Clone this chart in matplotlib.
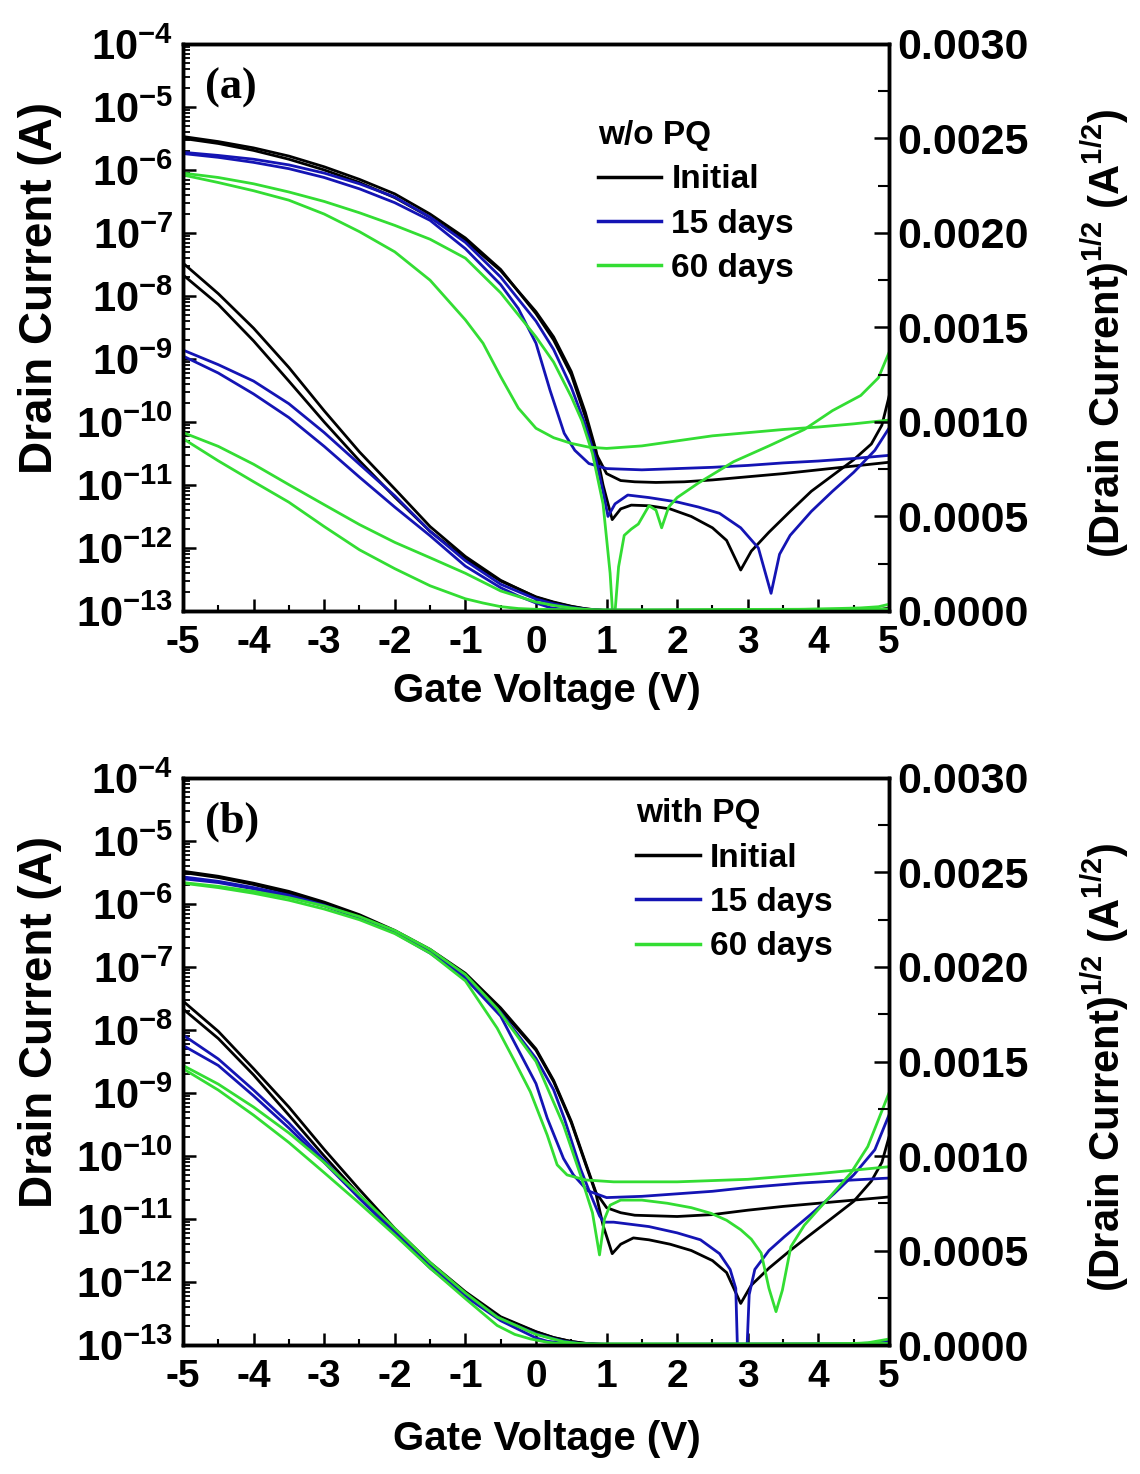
import numpy as np
import matplotlib
matplotlib.use('Agg')
import matplotlib.pyplot as plt
from matplotlib.ticker import LogLocator, MultipleLocator, FuncFormatter, NullFormatter

plt.rcParams['font.family'] = ['Liberation Sans', 'DejaVu Sans']
plt.rcParams['font.weight'] = 'bold'
plt.rcParams['mathtext.fontset'] = 'custom'
plt.rcParams['mathtext.bf'] = 'Liberation Sans:bold'
plt.rcParams['mathtext.rm'] = 'Liberation Sans'
plt.rcParams['axes.unicode_minus'] = False

# Drain current, log10(I / A).  The right axis shows sqrt(I).
# panel (a) - w/o PQ
a_init_1_v = [-5, -4.5, -4, -3.5, -3, -2.5, -2, -1.5, -1, -0.5, 0, 0.25, 0.5, 0.7, 0.85,
              1.0, 1.2, 1.4, 1.7, 2.1, 2.5, 3.0, 3.5, 4.0, 4.5, 5.0]
a_init_1_log = [-5.47, -5.55, -5.65, -5.78, -5.95, -6.15, -6.38, -6.70, -7.08, -7.58, -8.28, -8.70,
                -9.25, -9.92, -10.5, -10.82, -10.93, -10.95, -10.96, -10.95, -10.92, -10.87, -10.82,
                -10.76, -10.70, -10.64]
a_init_2_v = [-5, -4.5, -4, -3.5, -3, -2.5, -2, -1.5, -1, -0.5, 0, 0.25, 0.5, 0.7, 0.85, 0.95,
              1.08, 1.2, 1.35, 1.6, 1.9, 2.2, 2.5, 2.7, 2.9, 3.05, 3.3, 3.6, 3.9, 4.2, 4.5, 4.75,
              4.9, 5.0]
a_init_2_log = [-5.50, -5.58, -5.69, -5.83, -6.00, -6.20, -6.44, -6.75, -7.12, -7.60, -8.25, -8.65,
                -9.20, -9.85, -10.45, -11.0, -11.55, -11.38, -11.32, -11.33, -11.38, -11.5, -11.68,
                -11.88, -12.35, -12.05, -11.75, -11.42, -11.1, -10.85, -10.6, -10.35, -10.05, -9.6]
a_d15_1_v = [-5, -4.5, -4, -3.5, -3, -2.5, -2, -1.5, -1, -0.5, -0.25, 0, 0.2, 0.4, 0.55, 0.75,
             1.0, 1.5, 2.0, 2.5, 3.0, 3.5, 4.0, 4.5, 5.0]
a_d15_1_log = [-5.74, -5.80, -5.88, -5.98, -6.12, -6.30, -6.52, -6.80, -7.25, -7.82, -8.2, -8.75,
               -9.5, -10.18, -10.45, -10.66, -10.74, -10.76, -10.74, -10.72, -10.69, -10.65, -10.62,
               -10.58, -10.53]
a_d15_2_v = [-5, -4.5, -4, -3.5, -3, -2.5, -2, -1.5, -1, -0.5, 0, 0.25, 0.5, 0.7, 0.85, 0.95,
             1.02, 1.12, 1.3, 1.6, 2.0, 2.3, 2.6, 2.9, 3.15, 3.33, 3.45, 3.6, 3.9, 4.2, 4.5, 4.8,
             5.0]
a_d15_2_log = [-5.72, -5.77, -5.83, -5.92, -6.05, -6.22, -6.43, -6.75, -7.15, -7.7, -8.4, -8.85,
               -9.45, -10.05, -10.6, -11.1, -11.5, -11.3, -11.16, -11.2, -11.27, -11.35, -11.45,
               -11.68, -12.0, -12.72, -12.1, -11.8, -11.42, -11.1, -10.8, -10.45, -10.1]
a_d60_1_v = [-5, -4.5, -4, -3.5, -3, -2.5, -2, -1.5, -1, -0.75, -0.5, -0.25, 0, 0.25, 0.5, 0.75,
             1.0, 1.5, 2.0, 2.5, 3.0, 3.5, 4.0, 4.5, 5.0]
a_d60_1_log = [-6.08, -6.2, -6.33, -6.48, -6.7, -6.98, -7.3, -7.75, -8.38, -8.75, -9.28, -9.78,
               -10.1, -10.25, -10.34, -10.4, -10.42, -10.38, -10.3, -10.22, -10.17, -10.12, -10.08,
               -10.03, -9.97]
a_d60_2_v = [-5, -4.5, -4, -3.5, -3, -2.5, -2, -1.5, -1, -0.5, 0, 0.25, 0.5, 0.65, 0.8, 0.95,
             1.05, 1.1, 1.17, 1.25, 1.35, 1.45, 1.6, 1.7, 1.78, 1.88, 2.0, 2.3, 2.8, 3.3, 3.8,
             4.2, 4.6, 4.85, 5.0]
a_d60_2_log = [-6.05, -6.12, -6.22, -6.35, -6.5, -6.68, -6.88, -7.1, -7.4, -7.95, -8.65, -9.05,
               -9.6, -9.98, -10.5, -11.3, -12.4, -13.3, -12.3, -11.8, -11.7, -11.62, -11.33, -11.4,
               -11.68, -11.35, -11.2, -10.97, -10.63, -10.38, -10.12, -9.82, -9.58, -9.3, -8.9]

# panel (b) - with PQ
b_init_1_v = [-5, -4.5, -4, -3.5, -3, -2.5, -2, -1.5, -1, -0.5, 0, 0.25, 0.5, 0.7, 0.85,
              1.0, 1.2, 1.4, 2.0, 2.5, 3.0, 3.5, 4.0, 4.5, 5.0]
b_init_1_log = [-5.48, -5.56, -5.67, -5.80, -5.97, -6.17, -6.42, -6.72, -7.10, -7.65, -8.30, -8.80,
                -9.45, -10.1, -10.58, -10.82, -10.9, -10.94, -10.96, -10.93, -10.86, -10.8, -10.75,
                -10.7, -10.65]
b_init_2_v = [-5, -4.5, -4, -3.5, -3, -2.5, -2, -1.5, -1, -0.5, 0, 0.25, 0.5, 0.7, 0.85, 0.95,
              1.08, 1.2, 1.38, 1.6, 1.9, 2.2, 2.5, 2.7, 2.9, 3.05, 3.3, 3.6, 3.85, 4.2, 4.5, 4.75,
              4.9, 5.0]
b_init_2_log = [-5.50, -5.58, -5.69, -5.83, -6.00, -6.20, -6.45, -6.75, -7.13, -7.68, -8.32, -8.82,
                -9.47, -10.12, -10.6, -11.1, -11.55, -11.4, -11.3, -11.33, -11.4, -11.5, -11.66,
                -11.85, -12.34, -12.05, -11.78, -11.5, -11.28, -10.98, -10.72, -10.4, -10.1, -9.7]
b_d15_1_v = [-5, -4.5, -4, -3.5, -3, -2.5, -2, -1.5, -1, -0.5, 0, 0.16, 0.39, 0.53, 0.73, 1.0,
             1.5, 2.0, 2.5, 3.0, 3.75, 4.5, 5.0]
b_d15_1_log = [-5.57, -5.64, -5.74, -5.86, -6.02, -6.22, -6.46, -6.78, -7.18, -7.78, -8.85, -9.4,
               -10.04, -10.3, -10.55, -10.66, -10.64, -10.6, -10.56, -10.5, -10.43, -10.38, -10.35]
b_d15_2_v = [-5, -4.5, -4, -3.5, -3, -2.5, -2, -1.5, -1, -0.5, 0, 0.25, 0.4, 0.63, 0.77, 0.9,
             0.96, 1.1, 1.6, 2.0, 2.33, 2.6, 2.75, 2.83, 2.86, 2.98, 3.02, 3.1, 3.3, 3.52, 3.9,
             4.22, 4.5, 4.8, 5.0]
b_d15_2_log = [-5.6, -5.66, -5.76, -5.88, -6.03, -6.22, -6.45, -6.76, -7.15, -7.72, -8.45, -8.95,
               -9.4, -10.2, -10.6, -10.95, -11.05, -11.05, -11.12, -11.22, -11.33, -11.55, -11.8,
               -12.1, -13.3, -13.3, -12.2, -11.8, -11.5, -11.28, -10.92, -10.6, -10.3, -9.9, -9.35]
b_d60_1_v = [-5, -4.5, -4, -3.5, -3, -2.5, -2, -1.5, -1, -0.55, -0.3, -0.08, 0.16, 0.3, 0.44,
             0.7, 1.1, 2.0, 3.0, 4.0, 5.0]
b_d60_1_log = [-5.67, -5.74, -5.83, -5.94, -6.08, -6.25, -6.47, -6.78, -7.22, -7.97, -8.5, -8.98,
               -9.67, -10.14, -10.3, -10.38, -10.41, -10.41, -10.37, -10.28, -10.17]
b_d60_2_v = [-5, -4.5, -4, -3.5, -3, -2.5, -2, -1.5, -1, -0.55, 0, 0.39, 0.63, 0.8, 0.9, 0.97,
             1.05, 1.2, 1.5, 1.86, 2.2, 2.48, 2.7, 2.9, 3.05, 3.19, 3.3, 3.4, 3.49, 3.61, 3.8,
             3.99, 4.2, 4.46, 4.7, 5.0]
b_d60_2_log = [-5.66, -5.72, -5.8, -5.9, -6.03, -6.2, -6.42, -6.72, -7.12, -7.66, -8.5, -9.51,
               -10.3, -10.9, -11.57, -11.0, -10.78, -10.7, -10.7, -10.75, -10.82, -10.91, -11.02,
               -11.17, -11.32, -11.54, -12.1, -12.47, -12.13, -11.44, -11.1, -10.86, -10.6, -10.27,
               -9.85, -9.0]

labels = ['Initial', '15 days', '60 days']
colors = ['#000000', '#1414b4', '#33dd33']

panels = [
    ('(a)', 'w/o PQ', [[(a_init_1_v, a_init_1_log), (a_init_2_v, a_init_2_log)],
                       [(a_d15_1_v, a_d15_1_log), (a_d15_2_v, a_d15_2_log)],
                       [(a_d60_1_v, a_d60_1_log), (a_d60_2_v, a_d60_2_log)]]),
    ('(b)', 'with PQ', [[(b_init_1_v, b_init_1_log), (b_init_2_v, b_init_2_log)],
                        [(b_d15_1_v, b_d15_1_log), (b_d15_2_v, b_d15_2_log)],
                        [(b_d60_1_v, b_d60_1_log), (b_d60_2_v, b_d60_2_log)]]),
]

fig = plt.figure(figsize=(11.4, 14.74), dpi=100)
axes_pos = [[0.1605, 0.5855, 0.6193, 0.3847], [0.1605, 0.0875, 0.6193, 0.3847]]
xlabel_y = [-0.108, -0.132]
leg_anchor = [(0.588, 0.866), (0.642, 0.964)]


def log_fmt(val, pos):
    return r'$\mathbf{10^{%d}}$' % int(round(np.log10(val)))


for i, (tag, title, curves) in enumerate(panels):
    ax = fig.add_axes(axes_pos[i])
    ax2 = ax.twinx()
    handles = []
    for color, branches in zip(colors, curves):
        for k, (v, lg) in enumerate(branches):
            cur = 10.0 ** np.array(lg)
            line, = ax.plot(v, cur, color=color, lw=2.0)
            ax2.plot(v, np.sqrt(cur), color=color, lw=2.0)
            if k == 0:
                handles.append(line)

    ax.set_yscale('log')
    ax.set_xlim(-5, 5)
    ax.set_ylim(1e-13, 1e-4)
    ax2.set_ylim(0, 0.003)

    ax.yaxis.set_major_locator(LogLocator(base=10, numticks=20))
    ax.yaxis.set_minor_locator(LogLocator(base=10, subs=np.arange(2, 10), numticks=200))
    ax.yaxis.set_major_formatter(FuncFormatter(log_fmt))
    ax.yaxis.set_minor_formatter(NullFormatter())
    ax.xaxis.set_major_locator(MultipleLocator(1))
    ax.xaxis.set_minor_locator(MultipleLocator(0.5))
    ax.xaxis.set_major_formatter(FuncFormatter(lambda v, p: '%d' % round(v)))
    ax2.yaxis.set_major_locator(MultipleLocator(0.0005))
    ax2.yaxis.set_minor_locator(MultipleLocator(0.00025))
    ax2.yaxis.set_major_formatter(FuncFormatter(lambda v, p: '%.4f' % v))

    ax.tick_params(axis='y', which='major', direction='in', length=9, width=1.8,
                   labelsize=30, pad=7, right=False)
    ax.tick_params(axis='y', which='minor', direction='in', length=5, width=1.3, right=False)
    ax.tick_params(axis='x', which='major', direction='in', length=9, width=1.8,
                   labelsize=28, pad=10, top=False)
    ax.tick_params(axis='x', which='minor', direction='in', length=4, width=1.5, top=False)
    ax2.tick_params(axis='y', which='major', direction='in', length=11, width=1.8,
                    labelsize=31, pad=6)
    ax2.tick_params(axis='y', which='minor', direction='in', length=8, width=1.5)

    for sp in list(ax.spines.values()) + list(ax2.spines.values()):
        sp.set_linewidth(2.5)

    ax.set_xlabel('Gate Voltage (V)', fontsize=29, fontweight='bold')
    ax.xaxis.set_label_coords(0.516, xlabel_y[i])
    ax.set_ylabel('Drain Current (A)', fontsize=33, fontweight='bold')
    ax.yaxis.set_label_coords(-0.172, 0.57)
    ax2.set_ylabel(r'(Drain Current)$^{\mathrm{1/2}}$ (A$^{\mathrm{1/2}}$)', fontsize=30,
                   fontweight='bold')
    ax2.yaxis.set_label_coords(1.27, 0.49)

    ax.text(0.031, 0.922, tag, transform=ax.transAxes, fontsize=32, fontweight='bold',
            family='Liberation Serif', va='center', ha='left')

    leg = ax2.legend(handles, labels, title=title, loc='upper left',
                     bbox_to_anchor=leg_anchor[i], frameon=False, fontsize=24,
                     title_fontproperties={'weight': 'bold', 'size': 24}, alignment='left',
                     handlelength=1.9, handletextpad=0.3, labelspacing=0.4,
                     borderaxespad=0, borderpad=0)
    for h in leg.legend_handles:
        h.set_linewidth(2.5)

fig.savefig('out.png', dpi=100)
